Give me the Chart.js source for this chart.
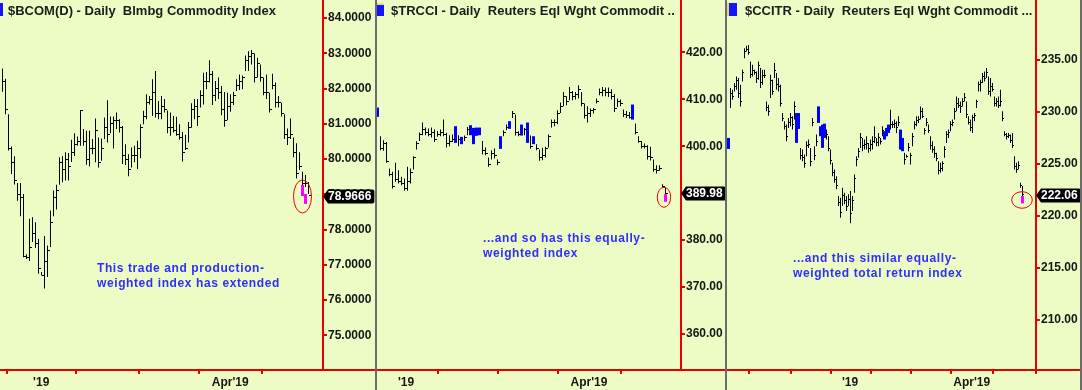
<!DOCTYPE html>
<html>
<head>
<meta charset="utf-8">
<script src="https://cdn.jsdelivr.net/npm/chart.js@4.4.0/dist/chart.umd.min.js"></script>
<style>
body { margin: 0; width: 1082px; height: 390px; overflow: hidden; position: relative; background: #edfcc5; font-family: "Liberation Sans", Arial, sans-serif; }
canvas { position: absolute; top: 0; }
.sep { position: absolute; top: 0; width: 2px; height: 390px; background: #6c6c6c; }
.icon { position: absolute; top: 3px; height: 13px; background: #1414ff; }
.title { position: absolute; top: 3px; font-size: 13px; font-weight: bold; line-height: 15px; color: #1c1c1c; white-space: pre; }
.note { position: absolute; font-size: 12px; font-weight: bold; line-height: 15px; letter-spacing: 0.6px; color: #2e2eff; white-space: pre; }
</style>
</head>
<body>
<canvas id="c1" width="375" height="390" style="left:0px"></canvas>
<canvas id="c2" width="348" height="390" style="left:377px"></canvas>
<canvas id="c3" width="353" height="390" style="left:727px"></canvas>
<div class="sep" style="left:375px"></div>
<div class="sep" style="left:725px"></div>
<div class="sep" style="left:1080px"></div>

<div class="icon" style="left:0px;width:3px"></div>
<div class="icon" style="left:377px;width:7px;border-top:2px solid #e8e070;height:11px"></div>
<div class="icon" style="left:727px;width:10px;border-left:2px solid #e8d860;width:8px"></div>
<div class="title" style="left:8px">$BCOM(D) - Daily  Blmbg Commodity Index</div>
<div class="title" style="left:391px">$TRCCI - Daily  Reuters Eql Wght Commodit ..</div>
<div class="title" style="left:745px">$CCITR - Daily  Reuters Eql Wght Commodit ...</div>

<div class="note" style="left:97px;top:261px">This trade and production-
weighted index has extended</div>
<div class="note" style="left:483px;top:231px">...and so has this equally-
weighted index</div>
<div class="note" style="left:793px;top:251px">...and this similar equally-
weighted total return index</div>

<script>
// $BCOM(D) daily bars
const bcomHigh = [82.57, 82.28, 81.27, 80.36, 80.08, 79.32, 79.32, 79.01, 77.30, 78.31,
  78.35, 78.21, 77.74, 76.80, 77.82, 77.55, 78.54, 79.11, 79.27, 80.05,
  80.09, 80.19, 80.17, 80.55, 80.73, 80.64, 81.39, 80.85, 80.80, 80.80,
  80.57, 81.15, 80.61, 80.58, 81.18, 81.67, 81.21, 81.21, 81.32, 81.13,
  80.94, 80.42, 80.14, 80.33, 80.38, 80.52, 80.99, 81.37, 81.84, 81.79,
  82.26, 82.50, 81.65, 81.79, 81.70, 81.38, 81.32, 81.22, 81.20, 80.99,
  80.77, 80.69, 81.05, 81.58, 81.70, 81.70, 81.95, 82.45, 82.47, 82.80,
  82.50, 82.21, 82.31, 82.07, 81.90, 81.88, 81.84, 81.91, 82.26, 82.40,
  82.37, 82.94, 83.06, 83.09, 82.99, 82.87, 82.68, 82.31, 82.40, 81.88,
  82.42, 82.17, 81.79, 81.60, 81.27, 80.87, 81.15, 80.61, 80.45, 80.19,
  79.64, 79.55, 79.35];
const bcomLow = [81.91, 81.27, 80.24, 79.58, 79.28, 78.82, 78.38, 77.22, 77.17, 77.11,
  77.65, 77.48, 76.75, 76.70, 76.33, 76.66, 77.51, 78.38, 78.57, 79.27,
  79.34, 79.39, 79.39, 79.92, 80.09, 80.38, 80.38, 80.38, 79.84, 79.79,
  80.14, 79.91, 79.76, 79.95, 80.57, 80.47, 80.73, 80.30, 80.85, 80.75,
  79.86, 79.83, 79.51, 79.76, 79.91, 79.72, 80.02, 80.99, 81.13, 81.55,
  81.22, 81.18, 81.13, 81.13, 81.32, 80.73, 80.66, 80.75, 80.66, 80.55,
  79.93, 80.26, 80.47, 80.89, 81.13, 80.94, 81.46, 81.55, 81.98, 82.17,
  81.53, 81.65, 81.70, 81.24, 80.92, 81.10, 81.34, 81.53, 81.93, 81.96,
  81.98, 82.50, 82.50, 82.68, 82.17, 82.31, 82.19, 81.81, 81.70, 81.32,
  81.98, 81.46, 81.46, 81.21, 80.57, 80.40, 80.57, 80.05, 79.45, 79.69,
  79.25, 79.21, 79.01];
const bcomClose = [82.2, 81.4, 80.3, 79.9, 79.4, 79.0, 78.9, 77.25, 77.2, 77.5,
  77.9, 77.6, 76.9, 76.7, 77.1, 77.4, 78.2, 78.9, 79.1, 79.9,
  79.7, 80.0, 79.8, 80.2, 80.4, 80.5, 81.39, 80.5, 80.0, 80.3,
  80.3, 80.8, 79.9, 80.3, 80.9, 80.7, 81.0, 81.1, 81.1, 80.9,
  80.1, 80.0, 79.7, 80.1, 80.1, 80.3, 80.9, 81.2, 81.6, 81.7,
  81.9, 81.3, 81.3, 81.5, 81.4, 80.9, 80.9, 80.8, 80.7, 80.6,
  80.2, 80.3, 80.9, 81.4, 81.5, 81.2, 81.8, 82.2, 82.2, 82.4,
  81.8, 82.0, 81.9, 81.4, 81.1, 81.5, 81.6, 81.8, 82.1, 82.2,
  82.3, 82.8, 82.9, 83.0, 82.3, 82.7, 82.3, 81.9, 81.9, 81.4,
  82.1, 81.6, 81.6, 81.3, 80.7, 80.6, 80.7, 80.2, 79.6, 79.8,
  79.3, 79.3, 78.9666];
const bcomBlue = [];
const bcomMagIdx = [100, 101];
const bcomMagHigh = [79.27, 79.01];
const bcomMagLow = [78.95, 78.73];
const bcomTickPos = [12.9, 35.9, 54.9, 75.9, 96.9];
const bcomTickLbl = ["'19", "", "", "Apr'19", ""];
const bcomYTicks = [75, 76, 77, 78, 79, 80, 81, 82, 83, 84];
const bcomLast = 78.9666;

// $TRCCI daily bars
const trcciHigh = [408.23, 402.13, 401.28, 400.92, 395.25, 394.54, 396.45, 394.89, 393.48, 393.12,
  395.60, 395.25, 397.87, 401.06, 402.91, 405.04, 403.97, 403.76, 403.97, 403.55,
  403.26, 403.55, 405.67, 402.84, 402.34, 402.48, 404.26, 402.34, 401.99, 402.27,
  404.11, 404.47, 403.90, 403.97, 403.97, 401.13, 399.72, 397.59, 399.15, 399.50,
  397.16, 402.13, 403.40, 404.61, 405.32, 407.52, 406.74, 403.19, 404.61, 403.90,
  405.04, 402.27, 402.13, 400.43, 399.29, 399.65, 399.86, 402.48, 405.67, 405.67,
  407.66, 409.29, 411.56, 410.64, 412.62, 411.77, 411.56, 412.98, 411.56, 409.08,
  408.51, 408.01, 408.16, 410.14, 412.27, 412.62, 412.48, 412.48, 412.13, 411.06,
  410.14, 409.93, 407.80, 407.52, 407.30, 408.87, 404.82, 402.13, 401.13, 400.57,
  400.21, 399.86, 397.16, 395.96, 395.96, 391.91, 391.21];
const trcciLow = [406.24, 399.15, 399.01, 396.45, 393.62, 390.99, 392.41, 392.06, 391.70, 390.50,
  390.50, 392.06, 395.04, 399.29, 401.13, 402.34, 402.34, 402.13, 401.84, 400.92,
  401.99, 402.13, 402.13, 399.72, 400.00, 400.92, 400.71, 400.00, 400.43, 401.13,
  402.34, 402.34, 400.43, 402.20, 402.34, 398.23, 398.09, 395.60, 397.16, 397.38,
  395.96, 399.43, 402.13, 403.40, 403.69, 406.03, 402.27, 402.13, 402.27, 402.34,
  400.71, 399.43, 400.43, 399.15, 396.88, 397.02, 397.59, 399.72, 403.97, 404.26,
  404.68, 407.09, 408.51, 408.72, 409.79, 409.79, 409.93, 410.14, 408.51, 405.89,
  405.04, 406.24, 406.95, 409.08, 410.85, 410.64, 410.64, 410.50, 409.93, 407.30,
  408.37, 408.51, 406.24, 406.03, 405.89, 405.67, 402.55, 400.71, 399.50, 399.50,
  397.16, 396.98, 394.54, 394.18, 394.75, 391.21, 389.79];
const trcciClose = [406.5, 399.5, 400.5, 396.8, 394.0, 391.5, 393.0, 392.5, 392.0, 391.0,
  392.5, 394.5, 397.5, 400.5, 402.5, 403.5, 403.0, 402.5, 403.0, 401.5,
  402.5, 403.0, 402.5, 400.5, 401.0, 401.5, 401.0, 401.5, 401.5, 401.8,
  403.5, 403.0, 403.5, 402.5, 403.0, 399.0, 398.5, 396.0, 398.5, 398.0,
  396.5, 401.5, 403.0, 404.0, 404.5, 407.0, 403.0, 402.5, 402.8, 403.5,
  401.0, 400.0, 401.0, 399.5, 397.5, 398.0, 399.5, 402.0, 405.0, 405.0,
  407.0, 408.5, 410.5, 409.5, 411.5, 410.5, 411.0, 412.0, 409.0, 406.5,
  407.0, 407.5, 407.8, 409.5, 411.5, 411.8, 411.5, 411.5, 410.5, 408.0,
  409.5, 409.0, 406.8, 406.5, 406.2, 406.0, 403.0, 401.0, 400.0, 400.0,
  397.8, 397.5, 395.0, 394.8, 395.2, 391.5, 389.98];
const trcciBlue = [0, 26, 28, 31, 32, 33, 34, 41, 44, 48, 50, 52, 85];
const trcciMagIdx = [96];
const trcciMagHigh = [389.79];
const trcciMagLow = [388.16];
const trcciTickPos = [9.5, 30.6, 49.6, 70.5, 91.7];
const trcciTickLbl = ["'19", "", "", "Apr'19", ""];
const trcciYTicks = [360, 370, 380, 390, 400, 410, 420];
const trcciLast = 389.98;

// $CCITR daily bars
const ccitrHigh = [227.51, 232.30, 232.14, 232.78, 233.42, 233.26, 232.62, 234.06, 236.13, 236.36,
  236.45, 234.86, 234.54, 234.06, 233.90, 234.86, 234.22, 234.06, 234.06, 231.02,
  230.70, 233.58, 233.10, 234.70, 233.74, 233.26, 232.62, 229.90, 229.11, 228.79,
  229.42, 229.90, 229.58, 231.02, 229.90, 229.90, 226.55, 226.39, 225.91, 227.19,
  227.35, 226.55, 229.42, 226.71, 227.83, 230.54, 228.63, 228.79, 228.88, 228.31,
  227.67, 226.39, 225.11, 224.47, 223.83, 221.92, 221.76, 222.72, 222.24, 221.92,
  222.08, 222.40, 221.92, 223.99, 225.75, 226.55, 227.99, 227.51, 227.35, 227.67,
  227.03, 227.35, 227.67, 228.63, 227.51, 227.99, 227.51, 228.63, 228.15, 228.47,
  228.79, 230.22, 229.11, 229.27, 229.11, 229.58, 228.31, 227.51, 226.07, 225.91,
  227.03, 226.07, 227.99, 229.11, 229.58, 229.58, 230.54, 230.38, 228.47, 229.42,
  228.79, 227.67, 227.19, 226.71, 226.07, 225.27, 225.11, 225.27, 226.71, 228.15,
  228.31, 229.11, 229.27, 230.38, 231.50, 231.34, 231.02, 231.34, 231.82, 231.02,
  229.58, 229.27, 229.74, 229.90, 231.18, 232.94, 233.10, 233.74, 233.90, 234.22,
  233.42, 233.26, 232.78, 231.50, 231.34, 231.50, 232.14, 230.06, 228.15, 227.99,
  227.99, 227.83, 227.99, 225.75, 225.11, 225.27, 223.19, 222.88];
const ccitrLow = [226.45, 230.38, 231.18, 231.98, 232.14, 231.34, 230.54, 232.94, 235.18, 235.81,
  235.50, 233.26, 233.42, 233.58, 232.78, 233.10, 232.30, 232.62, 233.26, 230.06,
  229.65, 231.34, 231.66, 233.26, 232.14, 231.98, 230.54, 229.11, 228.31, 227.19,
  228.47, 228.63, 228.31, 229.27, 227.03, 228.37, 225.43, 225.27, 224.63, 225.75,
  226.55, 224.79, 228.63, 225.37, 226.71, 228.95, 227.67, 226.55, 227.51, 227.35,
  226.23, 224.95, 223.83, 223.19, 222.56, 220.96, 219.84, 220.96, 221.12, 220.48,
  220.96, 219.30, 220.48, 222.24, 224.79, 225.59, 226.55, 226.23, 226.39, 226.39,
  226.07, 226.23, 226.39, 227.03, 226.71, 226.71, 226.87, 227.67, 227.35, 227.67,
  227.99, 228.31, 228.47, 228.47, 227.99, 228.63, 226.39, 226.23, 224.95, 225.59,
  226.23, 224.95, 226.71, 228.31, 228.63, 228.95, 229.27, 229.42, 227.83, 228.63,
  227.99, 226.39, 226.07, 225.59, 225.27, 223.99, 224.15, 224.31, 225.59, 227.03,
  227.51, 228.15, 228.63, 229.27, 230.06, 230.38, 229.90, 230.54, 231.02, 229.42,
  228.79, 228.15, 227.99, 229.11, 230.38, 231.98, 231.98, 232.78, 232.94, 233.26,
  231.66, 231.50, 231.98, 230.54, 230.54, 230.38, 230.54, 229.11, 227.67, 227.35,
  227.51, 227.03, 226.55, 224.47, 224.15, 224.47, 222.72, 221.92];
const ccitrClose = [227.0, 231.8, 231.5, 232.5, 233.0, 231.8, 231.0, 233.8, 235.8, 236.0,
  235.7, 233.6, 234.0, 233.8, 233.2, 234.5, 232.8, 233.5, 233.5, 230.4,
  230.0, 233.0, 232.0, 234.0, 232.6, 232.5, 230.8, 229.4, 228.6, 227.6,
  229.0, 229.5, 228.8, 230.5, 227.5, 228.8, 225.8, 225.6, 225.0, 226.8,
  226.9, 225.2, 229.0, 225.8, 227.2, 229.5, 228.0, 227.0, 228.2, 227.8,
  226.5, 225.3, 224.2, 223.5, 222.9, 221.3, 220.3, 222.0, 221.5, 220.9,
  221.6, 220.2, 221.5, 223.6, 225.4, 226.2, 227.5, 226.8, 226.9, 227.0,
  226.5, 226.9, 227.2, 227.5, 227.1, 227.5, 227.2, 228.2, 227.8, 228.2,
  228.5, 228.8, 228.8, 228.9, 228.5, 229.0, 226.8, 226.5, 225.4, 225.7,
  226.6, 225.8, 227.6, 228.8, 229.2, 229.3, 230.0, 229.6, 228.2, 229.0,
  228.2, 226.8, 226.4, 226.0, 225.5, 224.4, 224.6, 225.0, 226.4, 227.8,
  228.0, 228.8, 229.0, 230.0, 230.8, 230.6, 230.5, 231.0, 231.4, 229.8,
  229.0, 228.5, 229.5, 229.7, 231.0, 232.6, 232.8, 233.4, 233.2, 233.8,
  232.0, 232.5, 232.2, 230.8, 231.0, 230.6, 231.0, 229.4, 227.8, 227.6,
  227.7, 227.3, 226.8, 224.8, 224.5, 224.9, 222.9, 222.06];
const ccitrBlue = [0, 34, 35, 45, 46, 47, 48, 78, 79, 80, 86, 87];
const ccitrMagIdx = [147];
const ccitrMagHigh = [221.92];
const ccitrMagLow = [221.21];
const ccitrTickPos = [20.75, 41.9, 60.75, 81.6, 101.1, 121.6, 142.9];
const ccitrTickLbl = ["", "", "'19", "", "", "Apr'19", ""];
const ccitrYTicks = [210, 215, 220, 225, 230, 235];
const ccitrLast = 222.06;

Chart.defaults.font.family = '"Liberation Sans", Arial, sans-serif';
const RED = '#e80000';

function makePanel(id, p) {
  const black = [], blue = [];
  p.high.forEach(function (h, i) {
    const pt = { x: i, y: [p.low[i], h] };
    if (p.blue.indexOf(i) >= 0) blue.push(pt); else black.push(pt);
  });
  const mag = p.magIdx.map(function (i, k) { return { x: i, y: [p.magLow[k], p.magHigh[k]] }; });

  const marks = {
    id: 'marks',
    afterDatasetsDraw(chart) {
      const ctx = chart.ctx, xs = chart.scales.x, ys = chart.scales.y;
      ctx.save();
      ctx.fillStyle = '#000';
      p.close.forEach(function (c, i) {
        if (p.blue.indexOf(i) >= 0) return;
        const col = Math.floor(xs.getPixelForValue(i));
        ctx.fillRect(col + 1, Math.floor(ys.getPixelForValue(c)), p.tickW, 1);
      });
      ctx.restore();
    },
    afterDraw(chart) {
      const ctx = chart.ctx, xs = chart.scales.x, ys = chart.scales.y, ca = chart.chartArea;
      ctx.save();
      // bottom line under the price axis too
      ctx.strokeStyle = RED;
      ctx.lineWidth = 2;
      ctx.beginPath();
      ctx.moveTo(ca.right, ca.bottom);
      ctx.lineTo(chart.width, ca.bottom);
      ctx.stroke();
      // circle round the last bar
      ctx.lineWidth = 1;
      ctx.beginPath();
      ctx.ellipse(xs.getPixelForValue(p.ring[0]), ys.getPixelForValue(p.ring[1]), p.ring[2], p.ring[3], 0, 0, Math.PI * 2);
      ctx.stroke();
      // last price tag
      const y = Math.round(ys.getPixelForValue(p.last)) + 0.5;
      const txt = p.last.toFixed(p.dec);
      ctx.font = 'bold 12px "Liberation Sans", Arial, sans-serif';
      const w = ctx.measureText(txt).width;
      const x0 = ca.right, x1 = ca.right + 5 + w + 3;
      ctx.fillStyle = '#000';
      ctx.beginPath();
      ctx.moveTo(x0, y);
      ctx.lineTo(x0 + 5, y - 7);
      ctx.lineTo(x1 - 2, y - 7);
      ctx.quadraticCurveTo(x1, y - 7, x1, y - 5);
      ctx.lineTo(x1, y + 5);
      ctx.quadraticCurveTo(x1, y + 7, x1 - 2, y + 7);
      ctx.lineTo(x0 + 5, y + 7);
      ctx.closePath();
      ctx.fill();
      ctx.fillStyle = '#fff';
      ctx.textBaseline = 'middle';
      ctx.fillText(txt, x0 + 5, y + 0.5);
      ctx.restore();
    }
  };

  return new Chart(document.getElementById(id), {
    type: 'bar',
    data: {
      datasets: [
        { data: mag, backgroundColor: '#ff00ff', barThickness: 3, grouped: false, inflateAmount: 0, order: 1 },
        { data: blue, backgroundColor: '#0000ff', barThickness: 3, grouped: false, inflateAmount: 0, order: 2 },
        { data: black, backgroundColor: '#000000', barThickness: 1, grouped: false, inflateAmount: 0, order: 3 }
      ]
    },
    options: {
      responsive: false,
      animation: false,
      layout: { padding: 0 },
      plugins: { legend: { display: false }, tooltip: { enabled: false } },
      scales: {
        x: {
          type: 'linear', min: p.xMin, max: p.xMax, offset: false,
          afterBuildTicks: function (s) { s.ticks = p.tickPos.map(function (v) { return { value: v }; }); },
          afterFit: function (s) { s.height = 20; s.paddingLeft = 0; s.paddingRight = 0; },
          ticks: {
            autoSkip: false, maxRotation: 0, padding: 1, color: '#151515',
            font: { size: 12, weight: 'bold' },
            callback: function (v, i) { return p.tickLbl[i]; }
          },
          grid: { drawOnChartArea: false, tickLength: 4, color: RED, lineWidth: 2 },
          border: { color: RED, width: 2 }
        },
        y: {
          type: 'linear', position: 'right', min: p.yMin, max: p.yMax,
          afterBuildTicks: function (s) { s.ticks = p.yTicks.map(function (v) { return { value: v }; }); },
          afterFit: function (s) { s.width = p.axisW; s.paddingTop = 0; s.paddingBottom = 0; },
          ticks: {
            padding: 1, color: '#151515', font: { size: 12, weight: 'bold' },
            callback: function (v) { return v.toFixed(p.dec); }
          },
          grid: { drawOnChartArea: false, tickLength: 4, color: RED, lineWidth: 2 },
          border: { color: RED, width: 2 }
        }
      }
    },
    plugins: [marks]
  });
}

makePanel('c1', {
  high: bcomHigh, low: bcomLow, close: bcomClose, blue: bcomBlue,
  magIdx: bcomMagIdx, magHigh: bcomMagHigh, magLow: bcomMagLow,
  tickPos: bcomTickPos, tickLbl: bcomTickLbl, yTicks: bcomYTicks, last: bcomLast,
  xMin: -0.8333, xMax: 106.8333, yMin: 74.02, yMax: 84.51,
  axisW: 52, dec: 4, tickW: 2, ring: [100, 78.94, 9, 16.5]
});
makePanel('c2', {
  high: trcciHigh, low: trcciLow, close: trcciClose, blue: trcciBlue,
  magIdx: trcciMagIdx, magHigh: trcciMagHigh, magLow: trcciMagLow,
  tickPos: trcciTickPos, tickLbl: trcciTickLbl, yTicks: trcciYTicks, last: trcciLast,
  xMin: -0.1667, xMax: 101.1667, yMin: 352.33, yMax: 431.14,
  axisW: 44, dec: 2, tickW: 2, ring: [95.5, 389.12, 6.7, 10]
});
makePanel('c3', {
  high: ccitrHigh, low: ccitrLow, close: ccitrClose, blue: ccitrBlue,
  magIdx: ccitrMagIdx, magHigh: ccitrMagHigh, magLow: ccitrMagLow,
  tickPos: ccitrTickPos, tickLbl: ccitrTickLbl, yTicks: ccitrYTicks, last: ccitrLast,
  xMin: -0.75, xMax: 153.75, yMin: 205.19, yMax: 240.77,
  axisW: 44, dec: 2, tickW: 1, ring: [146.75, 221.54, 10.3, 8.3]
});
</script>
</body>
</html>
